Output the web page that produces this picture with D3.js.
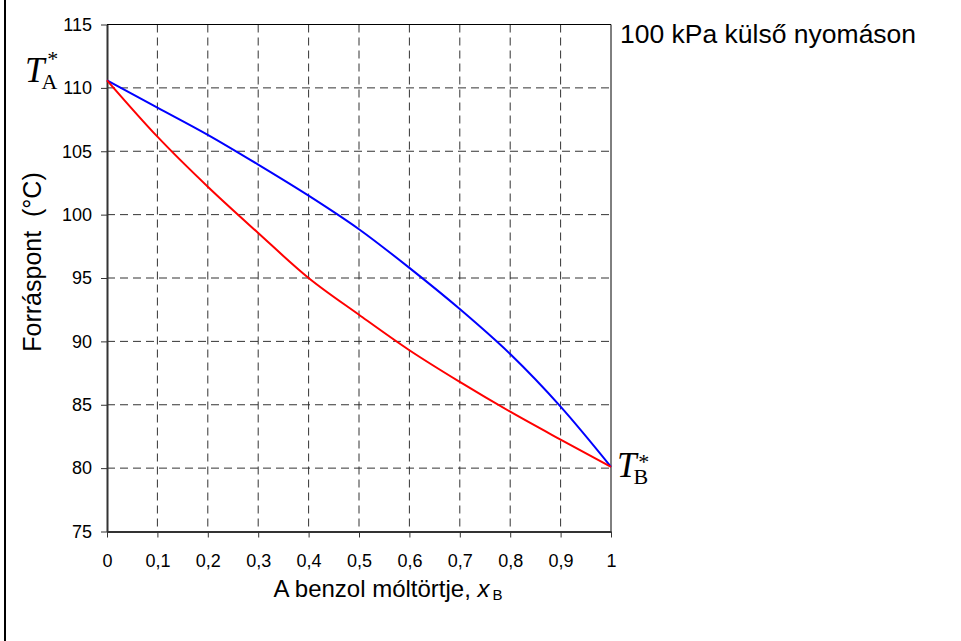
<!DOCTYPE html>
<html>
<head>
<meta charset="utf-8">
<script src="https://cdn.jsdelivr.net/npm/d3@7"></script>
<style>
  body { margin: 0; background: #fff; }
  svg { display: block; font-family: "Liberation Sans", Arial, sans-serif; }
</style>
</head>
<body>
<div id="chart"></div>
<script>
// benzol moltort (x tengely)
const xB = [0, 0.1, 0.2, 0.3, 0.4, 0.5, 0.6, 0.7, 0.8, 0.9, 1];
// goz (kek) es folyadek (piros) gorbe, °C
const vaporT = [110.6, 108.45, 106.3, 103.95, 101.5, 98.85, 95.8, 92.55, 89.0, 84.85, 80.1];
const liquidT = [110.6, 106.15, 102.2, 98.55, 95.0, 92.1, 89.3, 86.8, 84.45, 82.25, 80.1];

const xTicks = [0, 0.1, 0.2, 0.3, 0.4, 0.5, 0.6, 0.7, 0.8, 0.9, 1];
const yTicks = [75, 80, 85, 90, 95, 100, 105, 110, 115];

const width = 961, height = 641;
const margin = { left: 107, top: 24.5, right: 350, bottom: 109.5 };

const svg = d3.select("#chart")
  .append("svg")
    .attr("width", width)
    .attr("height", height);

// keret bal oldalon
svg.append("line")
  .attr("x1", 5).attr("x2", 5)
  .attr("y1", 0).attr("y2", height)
  .attr("stroke", "#000")
  .attr("stroke-width", 2);

/*******************************/
/*    scales                   */
/*******************************/
const xScale = d3.scaleLinear()
  .domain([0, 1])
  .range([margin.left, width - margin.right]);

const yScale = d3.scaleLinear()
  .domain([75, 115])
  .range([height - margin.bottom, margin.top]);

const fmt = d => String(d).replace(".", ",");

/*******************************/
/*    grid                     */
/*******************************/
const grid = svg.append("g");

grid.selectAll(".vgrid")
  .data(xTicks.slice(1, -1))
  .join("line")
    .attr("class", "vgrid")
    .attr("x1", d => xScale(d)).attr("x2", d => xScale(d))
    .attr("y1", yScale(115)).attr("y2", yScale(75))
    .attr("stroke", "#333")
    .attr("stroke-dasharray", "8,5");

grid.selectAll(".hgrid")
  .data(yTicks.slice(1, -1))
  .join("line")
    .attr("class", "hgrid")
    .attr("x1", xScale(0)).attr("x2", xScale(1))
    .attr("y1", d => yScale(d)).attr("y2", d => yScale(d))
    .attr("stroke", "#333")
    .attr("stroke-dasharray", "8,5");

// felso es jobb szel
svg.append("path")
  .attr("d", `M${xScale(0)},${yScale(115)}H${xScale(1)}V${yScale(75)}`)
  .attr("fill", "none")
  .attr("stroke", "#000")
  .attr("stroke-width", 1);

/*******************************/
/*    axes                     */
/*******************************/
const xAxis = svg.append("g")
  .attr("transform", `translate(0, ${yScale(75)})`)
  .call(d3.axisBottom(xScale)
    .tickValues(xTicks)
    .tickFormat(fmt)
    .tickSize(6)
    .tickPadding(17)
    .tickSizeOuter(0));

const yAxis = svg.append("g")
  .attr("transform", `translate(${xScale(0)}, 0)`)
  .call(d3.axisLeft(yScale)
    .tickValues(yTicks)
    .tickSize(6)
    .tickPadding(9)
    .tickSizeOuter(0));

[xAxis, yAxis].forEach(ax => {
  ax.attr("font-size", null).attr("font-family", null);
  ax.select(".domain").attr("stroke", "#333").attr("stroke-width", 2);
  ax.selectAll(".tick line").attr("stroke", "#333");
  ax.selectAll(".tick text")
    .attr("fill", "#000")
    .style("font-size", "18px");
});

/*******************************/
/*    curves                   */
/*******************************/
const line = d3.line()
  .x(d => xScale(d[0]))
  .y(d => yScale(d[1]))
  .curve(d3.curveMonotoneX);

svg.append("path")
  .datum(xB.map((x, i) => [x, vaporT[i]]))
  .attr("d", line)
  .attr("fill", "none")
  .attr("stroke", "#0000ff")
  .attr("stroke-width", 2);

svg.append("path")
  .datum(xB.map((x, i) => [x, liquidT[i]]))
  .attr("d", line)
  .attr("fill", "none")
  .attr("stroke", "#ff0000")
  .attr("stroke-width", 2);

/*******************************/
/*    labels                   */
/*******************************/
const xTitle = svg.append("text")
  .attr("x", 388)
  .attr("y", 597)
  .attr("text-anchor", "middle")
  .style("font-size", "24px");
xTitle.append("tspan").text("A benzol móltörtje, ");
xTitle.append("tspan").attr("font-style", "italic").text("x");
xTitle.append("tspan").attr("dx", 3).attr("dy", 3).style("font-size", "15px").text("B");

svg.append("text")
  .attr("transform", "translate(41, 262) rotate(-90)")
  .attr("text-anchor", "middle")
  .style("font-size", "25px")
  .style("white-space", "pre")
  .text("Forráspont  (°C)");

svg.append("text")
  .attr("x", 620)
  .attr("y", 43)
  .style("font-size", "26.5px")
  .text("100 kPa külső nyomáson");

// T* jelolesek, egy szovegben
const tLabel = (x, y, sub, starDy) => {
  const t = svg.append("text")
    .attr("x", x).attr("y", y)
    .style("font-family", "'Liberation Serif', 'Times New Roman', serif");
  t.append("tspan").style("font-style", "italic").style("font-size", "35px").text("T");
  t.append("tspan").attr("dx", -3).attr("dy", 7).style("font-size", "22px").text(sub);
  t.append("tspan").attr("dx", -10).attr("dy", starDy).style("font-size", "22px").text("*");
};
tLabel(25, yScale(vaporT[0]) + 2, "A", -23);
tLabel(617, yScale(vaporT[vaporT.length - 1]) + 10, "B", -15);
</script>
</body>
</html>
